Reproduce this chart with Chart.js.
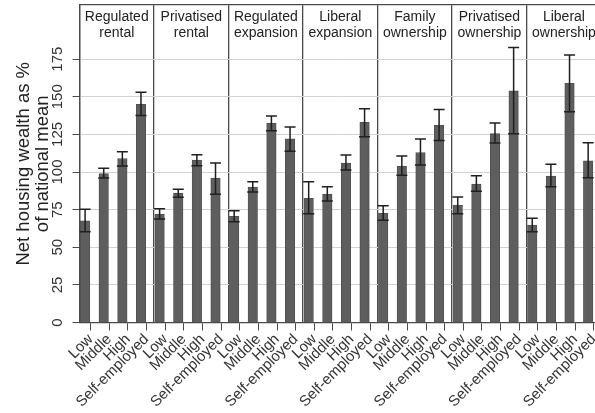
<!DOCTYPE html>
<html>
<head>
<meta charset="utf-8">
<script src="https://cdn.jsdelivr.net/npm/chart.js@4/dist/chart.umd.min.js"></script>
<style>
  html, body { margin: 0; padding: 0; background: #fff; overflow: hidden; }
  #wrap { width: 595px; height: 413px; overflow: hidden; position: relative; }
  canvas { display: block; }
</style>
</head>
<body>
<div id="wrap"><canvas id="chart" width="604" height="413"></canvas></div>
<script>
// Housing regimes (one panel each) and the class groups within every panel
const regimes = [
  ['Regulated', 'rental'],
  ['Privatised', 'rental'],
  ['Regulated', 'expansion'],
  ['Liberal', 'expansion'],
  ['Family', 'ownership'],
  ['Privatised', 'ownership'],
  ['Liberal', 'ownership']
];
const classes = ['Low', 'Middle', 'High', 'Self-employed'];
const yTicks = [0, 25, 50, 75, 100, 125, 150, 175];

// Net housing wealth as % of national mean, regime by regime (Low, Middle, High, Self-employed)
const meanWealth = [
  67.5, 99, 109, 145,
  72, 86, 108, 96,
  70.5, 90, 132.5, 122,
  82.5, 85.3, 106, 133,
  72.5, 104, 113, 131,
  78, 92, 125.5, 154,
  64.7, 97.3, 159, 107.5
];
// Lower and upper ends of the confidence intervals
const ciLow = [
  60.3, 96, 104, 137.5,
  68.7, 83.2, 104.2, 85.2,
  67, 86.7, 127.5, 113.8,
  72.3, 80.7, 101.3, 123.5,
  67.9, 97.8, 104.7, 121,
  72.3, 87.2, 119.3, 125.5,
  60.3, 90.2, 140.1, 96.2
];
const ciHigh = [
  75.2, 102.5, 113.5, 153,
  75.6, 88.5, 111.5, 106,
  74.3, 93.5, 137.3, 130,
  93.5, 90.2, 111.3, 142,
  77.6, 110.6, 122, 141.5,
  83.4, 97.5, 132.6, 182.7,
  69.2, 105.1, 177.8, 119.5
];

// Layout helpers: one x unit per class slot, bars sit a little left of their tick
const perPanel = classes.length;
const barShift = -0.3;
const panelLeft = -0.6;
const xMin = panelLeft;
const xMax = regimes.length * perPanel + panelLeft;

const barData = meanWealth.map((v, i) => ({ x: i + barShift, y: v }));

const axisGrey = '#4a4a4a';
const textGrey = '#333333';
const fontFamily = '"Liberation Sans", Arial, sans-serif';

const errorBars = {
  id: 'errorBars',
  afterDatasetsDraw(chart) {
    const { ctx, scales: { x, y } } = chart;
    ctx.save();
    ctx.strokeStyle = '#1f1f1f';
    ctx.lineWidth = 1.5;
    const cap = 5.5;
    meanWealth.forEach((v, i) => {
      const px = x.getPixelForValue(i + barShift);
      const lo = y.getPixelForValue(ciLow[i]);
      const hi = y.getPixelForValue(ciHigh[i]);
      ctx.beginPath();
      ctx.moveTo(px, lo); ctx.lineTo(px, hi);
      ctx.moveTo(px - cap, lo); ctx.lineTo(px + cap, lo);
      ctx.moveTo(px - cap, hi); ctx.lineTo(px + cap, hi);
      ctx.stroke();
    });
    ctx.restore();
  }
};

const stripLabels = {
  id: 'stripLabels',
  afterDraw(chart) {
    const { ctx, chartArea, scales: { x } } = chart;
    ctx.save();
    ctx.font = '14px ' + fontFamily;
    ctx.fillStyle = '#222';
    ctx.textAlign = 'center';
    ctx.textBaseline = 'alphabetic';
    regimes.forEach((lines, p) => {
      const cx = x.getPixelForValue(p * perPanel + panelLeft + perPanel / 2);
      lines.forEach((t, k) => ctx.fillText(t, cx, chartArea.top + 15.5 + k * 16));
    });
    ctx.restore();
  }
};

new Chart(document.getElementById('chart'), {
  type: 'bar',
  data: {
    datasets: [{
      data: barData,
      backgroundColor: '#5e5e5e',
      borderColor: '#525252',
      borderWidth: 1,
      barThickness: 9.5
    }]
  },
  options: {
    responsive: false,
    animation: false,
    layout: { padding: { top: 5, right: 2.8, left: 0, bottom: 0 } },
    plugins: { legend: { display: false }, tooltip: { enabled: false } },
    scales: {
      x: {
        type: 'linear',
        position: 'bottom',
        offset: false,
        min: xMin,
        max: xMax,
        afterBuildTicks(scale) {
          scale.ticks = meanWealth.map((_, i) => ({ value: i }));
        },
        afterFit(scale) {
          scale.height = 90.5;
          scale.paddingLeft = 0;
          scale.paddingRight = 0;
        },
        grid: { offset: false, drawOnChartArea: false, drawTicks: true, tickLength: 8, color: axisGrey, lineWidth: 1 },
        border: { display: true, color: axisGrey, width: 1.3 },
        ticks: {
          autoSkip: false,
          minRotation: 45,
          maxRotation: 45,
          padding: 0,
          color: textGrey,
          font: { family: fontFamily, size: 15 },
          callback: (v, i) => classes[i % perPanel]
        }
      },
      panels: {
        type: 'linear',
        position: 'top',
        offset: false,
        min: xMin,
        max: xMax,
        afterBuildTicks(scale) {
          scale.ticks = regimes.map((_, p) => ({ value: p * perPanel + panelLeft }))
            .concat([{ value: xMax }]);
        },
        afterFit(scale) { scale.height = 0; scale.paddingLeft = 0; scale.paddingRight = 0; },
        grid: { offset: false, drawOnChartArea: true, drawTicks: false, color: axisGrey, lineWidth: 1.3 },
        border: { display: true, color: axisGrey, width: 1.3 },
        ticks: { display: false }
      },
      y: {
        min: 0,
        max: 211,
        afterBuildTicks(scale) {
          scale.ticks = yTicks.map(v => ({ value: v }));
        },
        afterFit(scale) { scale.width = 79.5; scale.paddingTop = 0; scale.paddingBottom = 0; },
        grid: { color: '#d2d2d2', lineWidth: 1, drawTicks: true, tickLength: 7, tickColor: axisGrey },
        border: { display: true, color: axisGrey, width: 1.3 },
        ticks: {
          minRotation: 90,
          maxRotation: 90,
          crossAlign: 'center',
          padding: 2,
          color: textGrey,
          font: { family: fontFamily, size: 15 }
        },
        title: {
          display: true,
          text: ['Net housing wealth as %', 'of national mean'],
          color: '#222',
          padding: { top: 14.5, bottom: 0 },
          font: { family: fontFamily, size: 18.5, lineHeight: 19 / 18.5 }
        }
      }
    }
  },
  plugins: [errorBars, stripLabels]
});
</script>
</body>
</html>
